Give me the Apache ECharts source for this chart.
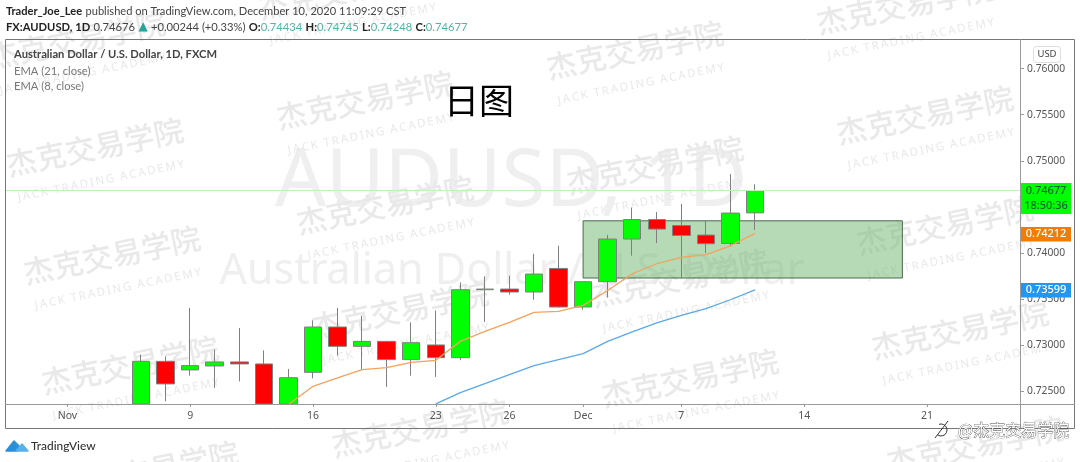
<!DOCTYPE html>
<html>
<head>
<meta charset="utf-8">
<title>AUDUSD 1D</title>
<style>html,body{margin:0;padding:0;background:#fff}#chart{width:1080px;height:462px}</style>
<script src="https://cdn.jsdelivr.net/npm/echarts@6/dist/echarts.min.js"></script>
</head>
<body>
<div id="chart"></div>
<script>
// bar position on the time scale, counted in trading days from Nov 2
const barIndex = [3,4,5,6,7,8,9,10,11,12,13,14,15,16,17,18,19,20,21,22,23,24,25,26,27,28];
// parts of some candles run below the visible price range, those are cut at the axis minimum
const opens  = [0.72359,0.72822,0.72729,0.72772,0.72816,0.72794,0.72359,0.72703,0.73195,0.72985,0.73039,0.72841,0.73,0.72862,0.736,0.73607,0.73575,0.73831,0.73412,0.73687,0.7415,0.74362,0.74297,0.74193,0.74102,0.74434];
const closes = [0.72822,0.72577,0.72776,0.72816,0.72794,0.72359,0.72645,0.73195,0.72985,0.73039,0.72841,0.73025,0.72862,0.736,0.73607,0.73575,0.7377,0.73412,0.73687,0.7415,0.74362,0.74258,0.74189,0.74099,0.74432,0.74677];
const lows   = [0.72359,0.72388,0.72667,0.72534,0.72605,0.72359,0.72359,0.72638,0.72884,0.72732,0.72545,0.72667,0.72653,0.72835,0.7325,0.73546,0.73491,0.73405,0.73383,0.73516,0.73969,0.74106,0.73727,0.73998,0.74069,0.74248];
const highs  = [0.72895,0.72876,0.73401,0.72949,0.73184,0.72941,0.7274,0.73267,0.73401,0.73318,0.73045,0.73245,0.73375,0.73679,0.73744,0.73752,0.7399,0.74077,0.7369,0.74196,0.74492,0.74443,0.74533,0.74351,0.74855,0.74745];

const ema8Index = [9,10,11,12,13,14,15,16,17,18,19,20,21,22,23,24,25,26,27,28];
const ema8 = [0.72353,0.72551,0.72642,0.72732,0.72754,0.72811,0.72833,0.73039,0.73148,0.73245,0.73354,0.73364,0.7343,0.73592,0.73773,0.73882,0.7395,0.7398,0.74077,0.74212];
const ema21Index = [15,16,17,18,19,20,21,22,23,24,25,26,27,28];
const ema21 = [0.7236,0.72483,0.7258,0.72678,0.72776,0.72841,0.72906,0.73039,0.73141,0.73239,0.73321,0.73394,0.73491,0.73599];

const xTickIndex = [0,5,10,15,18,21,25,30,35];
const xTickLabels = ['Nov','9','16','23','26','Dec','7','14','21'];
const priceTicks = [0.725,0.73,0.735,0.74,0.745,0.75,0.755,0.76];

const zoneBox = [21,34,0.74348,0.73727];
const lastPrice = 0.74677;

const FONT = '"Noto Sans", sans-serif';
const TEXTFONT = 'Lato, sans-serif';
const CJK = '"Noto Sans CJK SC", sans-serif';

// watermark centres
const stamps = [[77,40],[347,-10],[95,147],[365,100],[635,50],[905,5],[112,255],[385,205],[655,165],[925,115],
  [130,365],[400,310],[680,278],[945,225],[150,470],[420,428],[690,378],[960,330],[975,445]];

const stampEls = [];
stamps.forEach(function (p) {
  stampEls.push({type:'text',x:p[0],y:p[1],rotation:0.2,z:-5,silent:true,
    style:{text:'杰克交易学院',font:'500 30px '+CJK,fill:'#e9e9e9',textAlign:'center',textVerticalAlign:'middle'}});
  stampEls.push({type:'text',x:p[0]+6,y:p[1]+34,rotation:0.2,z:-5,silent:true,
    style:{text:'J\u2009A\u2009C\u2009K  T\u2009R\u2009A\u2009D\u2009I\u2009N\u2009G  A\u2009C\u2009A\u2009D\u2009E\u2009M\u2009Y',font:'11.5px '+FONT,fill:'#e9e9e9',textAlign:'center',textVerticalAlign:'middle'}});
});

function priceTag(y, h, label, bg, fg) {
  return [
    {type:'rect',z:30,shape:{x:1021,y:y,width:50,height:h},style:{fill:bg}},
    {type:'text',x:1046,y:y+h/2,z:31,style:{text:label,font:'500 11px '+FONT,fill:fg,textAlign:'center',textVerticalAlign:'middle'}}
  ];
}

const graphics = stampEls.concat([
  {type:'text',x:511,y:183,z:-6,silent:true,style:{text:'AUDUSD, 1D',font:'80px '+FONT,fill:'#efefef',textAlign:'center',textVerticalAlign:'middle'}},
  {type:'text',x:512,y:272,z:-6,silent:true,style:{text:'Australian Dollar / U.S. Dollar',font:'43px '+FONT,fill:'#efefef',textAlign:'center',textVerticalAlign:'middle'}},
  // frame
  {type:'rect',z:15,shape:{x:5.5,y:39.5,width:1069,height:389},style:{fill:'none',stroke:'#777',lineWidth:1}},
  {type:'line',z:15,shape:{x1:5,y1:404.5,x2:1075,y2:404.5},style:{stroke:'#999',lineWidth:1}},
  {type:'line',z:15,shape:{x1:1020.5,y1:39,x2:1020.5,y2:428},style:{stroke:'#999',lineWidth:1}},
  // header
  {type:'text',x:6,y:11,z:20,style:{text:'{b|Trader_Joe_Lee} {n|published on TradingView.com, December 10, 2020 11:09:29 CST}',textVerticalAlign:'middle',
    rich:{b:{font:'bold 11.1px '+TEXTFONT,fill:'#222'},n:{font:'11.1px '+TEXTFONT,fill:'#444'}}}},
  {type:'text',x:6,y:27,z:20,style:{text:'{b|FX:AUDUSD, 1D} {n|0.74676} {t|▲} {n|+0.00244 (+0.33%)} {b|O:}{g|0.74434} {b|H:}{g|0.74745} {b|L:}{g|0.74248} {b|C:}{g|0.74677}',textVerticalAlign:'middle',
    rich:{b:{font:'bold 11.2px '+TEXTFONT,fill:'#222'},n:{font:'11.2px '+TEXTFONT,fill:'#444'},g:{font:'11.2px '+TEXTFONT,fill:'#4fb3a6'},t:{font:'12px "DejaVu Sans"',fill:'#26a69a'}}}},
  // legend
  {type:'text',x:14,y:54,z:20,style:{text:'Australian Dollar / U.S. Dollar, 1D, FXCM',font:'bold 11.2px '+TEXTFONT,fill:'#444',textVerticalAlign:'middle'}},
  {type:'text',x:14,y:71,z:20,style:{text:'EMA (21, close)',font:'11.2px '+TEXTFONT,fill:'#777',textVerticalAlign:'middle'}},
  {type:'text',x:14,y:86,z:20,style:{text:'EMA (8, close)',font:'11.2px '+TEXTFONT,fill:'#777',textVerticalAlign:'middle'}},
  {type:'text',x:479,y:101,z:20,style:{text:'日图',font:'35px '+CJK,fill:'#000',textAlign:'center',textVerticalAlign:'middle'}},
  // USD box
  {type:'rect',z:20,shape:{x:1033.5,y:46.5,width:27,height:16,r:3},style:{fill:'#fff',stroke:'#ddd'}},
  {type:'text',x:1047,y:54.5,z:21,style:{text:'USD',font:'9.5px '+FONT,fill:'#444',textAlign:'center',textVerticalAlign:'middle'}}
]).concat(
  priceTag(183,15,'0.74677','#00ff00','#063'),
  priceTag(198,16,'18:50:36','#00ff00','#063'),
  priceTag(227,14.5,'0.74212','#f57c00','#fff'),
  priceTag(283,14.5,'0.73599','#2196f3','#fff')
).concat([
  // TradingView logo
  {type:'polygon',z:20,shape:{points:[[6,451],[14,441],[20,447],[17,451]]},style:{fill:'#2a8fd8',stroke:'#2a8fd8',lineWidth:1.5,lineJoin:'round'}},
  {type:'polygon',z:20,shape:{points:[[16,451],[22,444],[28,451]]},style:{fill:'#58b0ea',stroke:'#58b0ea',lineWidth:1.5,lineJoin:'round'}},
  {type:'text',x:31,y:446,z:20,style:{text:'TradingView',font:'500 11.9px '+TEXTFONT,fill:'#333',textVerticalAlign:'middle'}},
  // weibo mark
  {type:'arc',z:25,shape:{cx:941,cy:430,r:6,startAngle:-1.9,endAngle:2.2},style:{fill:'none',stroke:'#333',lineWidth:1}},
  {type:'line',z:25,shape:{x1:935,y1:438,x2:948,y2:421},style:{stroke:'#333',lineWidth:1}},
  {type:'text',x:958,y:430,z:25,style:{text:'@杰克交易学院',font:'16px '+CJK,fill:'#fff',stroke:'#444',lineWidth:0.7,textVerticalAlign:'middle'}}
]);

const chart = echarts.init(document.getElementById('chart'));
chart.setOption({
  animation: false,
  backgroundColor: '#fff',
  grid: {left:5,top:39,width:1015,height:365,containLabel:false},
  xAxis: {
    type:'value',min:-2.54,max:38.79,splitLine:{show:false},
    axisLine:{show:false,onZero:false},
    axisTick:{show:true,length:3,customValues:xTickIndex,lineStyle:{color:'#999'}},
    axisLabel:{color:'#555',fontSize:10.5,fontFamily:FONT,margin:7,customValues:xTickIndex,
      formatter:function (v) { return xTickLabels[xTickIndex.indexOf(v)]; }}
  },
  yAxis: {
    type:'value',position:'right',min:0.72359,max:0.76322,splitLine:{show:false},scale:true,
    axisLine:{show:false,onZero:false},
    axisTick:{show:true,length:4,customValues:priceTicks,lineStyle:{color:'#999'}},
    axisLabel:{color:'#555',fontSize:10.3,fontFamily:FONT,margin:7,customValues:priceTicks,
      formatter:function (v) { return v.toFixed(5); }}
  },
  graphic: graphics,
  series: [
    {
      type:'candlestick',barWidth:18,z:3,encode:{x:0,y:[1,2,3,4]},
      data:barIndex.map(function (x,i) { return [x,opens[i],closes[i],lows[i],highs[i]]; }),
      itemStyle:{color:'#00ff00',color0:'#ff0000',borderColor:'#808080',borderColor0:'#808080',borderWidth:1},
      markArea:{silent:true,z:1,itemStyle:{color:'rgba(110,180,110,0.5)',borderColor:'#4a6a4a',borderWidth:1},
        data:[[{coord:[zoneBox[0],zoneBox[2]]},{coord:[zoneBox[1],zoneBox[3]]}]]},
      markLine:{silent:true,symbol:'none',precision:5,label:{show:false},lineStyle:{color:'#bdf2bd',width:1,type:'solid'},
        data:[{yAxis:lastPrice}]}
    },
    {type:'line',name:'EMA 21',z:4,symbol:'none',lineStyle:{color:'#5aa9e6',width:1.3},
      data:ema21Index.map(function (x,i) { return [x,ema21[i]]; })},
    {type:'line',name:'EMA 8',z:4,symbol:'none',lineStyle:{color:'#f5a25d',width:1.3},
      data:ema8Index.map(function (x,i) { return [x,ema8[i]]; })}
  ]
});
</script>
</body>
</html>
